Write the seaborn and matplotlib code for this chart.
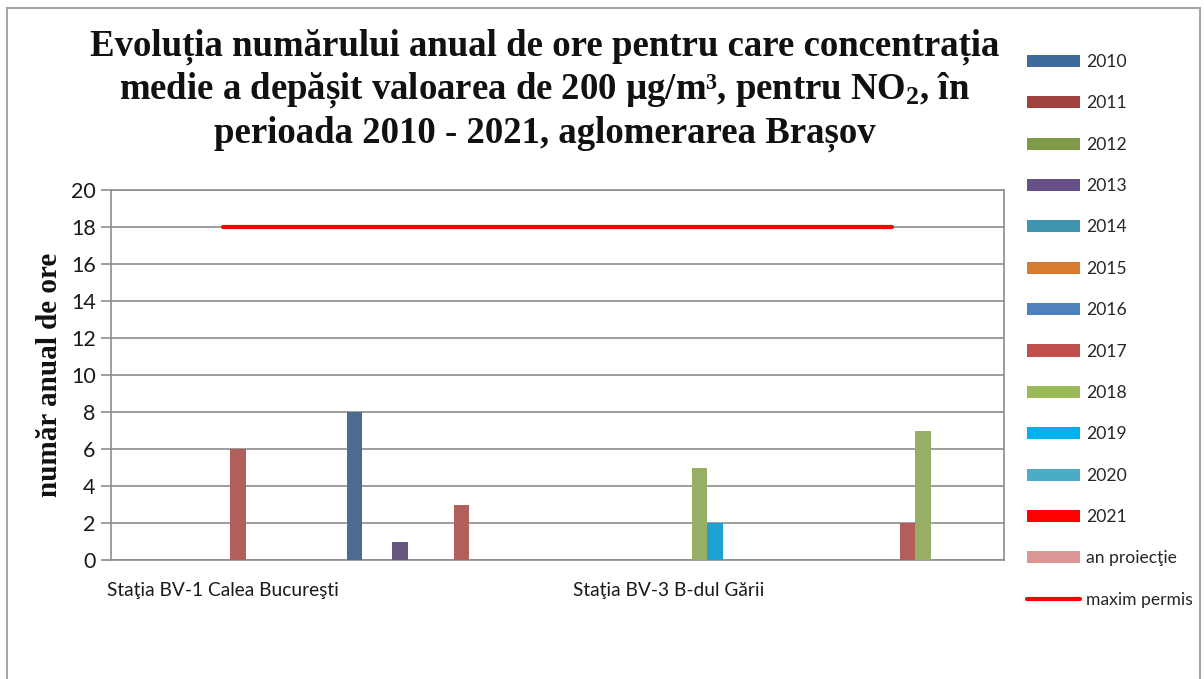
import matplotlib
matplotlib.use("Agg")
import matplotlib.pyplot as plt
from matplotlib.patches import Patch, Rectangle
from matplotlib.lines import Line2D
import seaborn as sns
import pandas as pd
import numpy as np

# ---------------- data ----------------
categories = ["Staţia BV-1 Calea Bucureşti", "Staţia BV-2", "Staţia BV-3 B-dul Gării", "Staţia BV-4"]
tick_labels = ["Staţia BV-1 Calea Bucureşti", "", "Staţia BV-3 B-dul Gării", ""]
series = ["2010", "2011", "2012", "2013", "2014", "2015", "2016",
          "2017", "2018", "2019", "2020", "2021", "an proiecţie"]
v2010 = [0, 8, 0, 0]
v2011 = [0, 0, 0, 0]
v2012 = [0, 0, 0, 0]
v2013 = [0, 1, 0, 0]
v2014 = [0, 0, 0, 0]
v2015 = [0, 0, 0, 0]
v2016 = [0, 0, 0, 0]
v2017 = [6, 3, 0, 2]
v2018 = [0, 0, 5, 7]
v2019 = [0, 0, 2, 0]
v2020 = [0, 0, 0, 0]
v2021 = [0, 0, 0, 0]
v_proiectie = [0, 0, 0, 0]
maxim_permis = [18, 18, 18, 18]
line_label = "maxim permis"
y_ticks = [0, 2, 4, 6, 8, 10, 12, 14, 16, 18, 20]

colors = ["#3F6A9C", "#A0413E", "#7F9B48", "#674F88", "#3D96AD", "#D77B31",
          "#4F81BD", "#C0504D", "#9BBB59", "#00B0F0", "#4BACC6", "#FF0000", "#D99694"]

title = ("Evoluția numărului anual de ore pentru care concentrația\n"
         "medie a depășit valoarea de 200 µg/m³, pentru NO$_2$, în\n"
         "perioada 2010 - 2021, aglomerarea Brașov")
ylabel = "număr anual de ore"

all_vals = [v2010, v2011, v2012, v2013, v2014, v2015, v2016,
            v2017, v2018, v2019, v2020, v2021, v_proiectie]
rows = []
for s, vals in zip(series, all_vals):
    for c, v in zip(categories, vals):
        rows.append({"statie": c, "an": s, "ore": v})
df = pd.DataFrame(rows)

# ---------------- figure ----------------
sns.set_theme(style="white")
plt.rcParams["font.family"] = ["Lato", "DejaVu Sans"]
plt.rcParams["mathtext.fontset"] = "custom"
plt.rcParams["mathtext.rm"] = "Liberation Serif:bold"
plt.rcParams["mathtext.bf"] = "Liberation Serif:bold"
plt.rcParams["mathtext.it"] = "Liberation Serif:bold"

W, H = 1204, 679
fig = plt.figure(figsize=(W / 100, H / 100), dpi=100)
fig.patch.set_facecolor("white")
ax = fig.add_axes([111 / W, 1 - 560 / H, (1004 - 111) / W, (560 - 190) / H])

sns.barplot(data=df, x="statie", y="ore", hue="an", order=categories,
            hue_order=series, palette=colors, width=0.89, linewidth=0,
            errorbar=None, ax=ax, legend=False, zorder=3)

sns.lineplot(x=np.arange(len(categories)), y=maxim_permis, color="#FF0000",
             linewidth=3.0, ax=ax, zorder=4)

grid_c = "#8C8C8C"
ax.set_ylim(0, 20)
ax.set_xlim(-0.5, len(categories) - 0.5)
ax.set_yticks(y_ticks)
ax.set_yticklabels([str(t) for t in y_ticks], fontsize=15.5, color="#1a1a1a")
ax.yaxis.grid(True, color=grid_c, linewidth=1.2)
ax.set_axisbelow(True)
for sp in ax.spines.values():
    sp.set_color(grid_c)
    sp.set_linewidth(1.2)
    sp.set_visible(True)

ax.set_xticks(np.arange(-0.5, len(categories), 1.0))
ax.set_xticklabels([])
ax.tick_params(axis="x", which="major", length=7, width=1.2, color=grid_c, direction="out")
ax.tick_params(axis="y", which="major", length=7, width=1.2, color=grid_c, direction="out",
               pad=4, left=True)
ax.set_xticks(np.arange(len(categories)), minor=True)
ax.set_xticklabels(tick_labels, minor=True, fontsize=13.8, color="#1a1a1a")
ax.tick_params(axis="x", which="minor", length=0, pad=16)
ax.set_xlabel("")
ax.set_ylabel(ylabel, fontsize=21, fontweight="bold", family="Liberation Serif",
              labelpad=6, color="#111111")

fig.text(545 / W, 1 - 90 / H, title, ha="center", va="center", fontsize=26.5,
         fontweight="bold", family="Liberation Serif", linespacing=1.2, color="#111111")

# legend
handles = [Patch(facecolor=c, edgecolor="none") for c in colors]
handles.append(Line2D([0], [0], color="#FF0000", linewidth=3.0))
labels = series + [line_label]
fig.legend(handles, labels, loc="upper left", bbox_to_anchor=(1027 / W, 1 - 54 / H),
           frameon=False, fontsize=12.6, handlelength=3.0, handleheight=0.68,
           handletextpad=0.4, labelspacing=1.45, borderpad=0, borderaxespad=0)

# outer chart frame
fig.add_artist(Rectangle((7 / W, -0.02), (1200 - 7) / W, 1 - 8 / H + 0.02,
                         transform=fig.transFigure, fill=False,
                         edgecolor="#A6A6A6", linewidth=1.5))

fig.savefig("out.png", dpi=100, facecolor="white")
